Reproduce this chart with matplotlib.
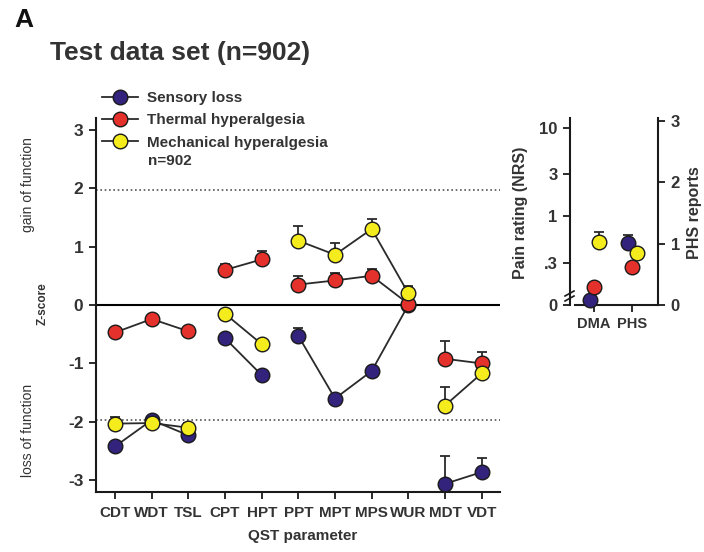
import numpy as np
import matplotlib
matplotlib.use('Agg')
import matplotlib.pyplot as plt
from matplotlib.lines import Line2D
from matplotlib.ticker import NullLocator

plt.rcParams['font.family'] = ['Liberation Sans', 'DejaVu Sans']

# ---------------- data ----------------
params = ['CDT', 'WDT', 'TSL', 'CPT', 'HPT', 'PPT', 'MPT', 'MPS', 'WUR', 'MDT', 'VDT']
groups = [[0, 1, 2], [3, 4], [5, 6, 7, 8], [9, 10]]
series_names = ['Sensory loss', 'Thermal hyperalgesia', 'Mechanical hyperalgesia']

sensory_loss = [-2.42, -1.97, -2.23, -0.57, -1.20, -0.53, -1.60, -1.13, 0.00, -3.06, -2.86]
sensory_loss_err = [0, 0.05, 0, 0, 0, 0.13, 0, 0, 0, 0.47, 0.25]
thermal = [-0.47, -0.24, -0.45, 0.60, 0.78, 0.35, 0.42, 0.50, 0.02, -0.92, -1.00]
thermal_err = [0, 0, 0, 0.10, 0.14, 0.14, 0.13, 0.12, 0, 0.30, 0.19]
mechanical = [-2.03, -2.02, -2.10, -0.15, -0.67, 1.10, 0.86, 1.30, 0.20, -1.72, -1.17]
mechanical_err = [0.12, 0, 0.08, 0, 0.06, 0.25, 0.20, 0.18, 0.13, 0.32, 0.10]
zscore_ticks = [-3, -2, -1, 0, 1, 2, 3]

inset_cats = ['DMA', 'PHS']
# order: sensory loss, thermal, mechanical
dma_pain = [0.115, 0.16, 0.51]
dma_pain_err = [0, 0, 0.15]
phs_reports = [1.01, 0.62, 0.85]
phs_reports_err = [0.13, 0, 0]
pain_ticks = [0.1, 0.3, 1, 3, 10]
pain_ticklabels = ['0', '.3', '1', '3', '10']
phs_ticks = [0, 1, 2, 3]

# ---------------- style ----------------
W, H = 704, 552
colors = ['#33237c', '#e4312b', '#f5ec1e']
offsets = [-0.1, 0.0, 0.12]
txt = '#333333'
lc = '#2a2a2a'
ms = 10.5

fig = plt.figure(figsize=(W / 100, H / 100), dpi=100)

# ---------------- main axes ----------------
ax = fig.add_axes([96 / W, 1 - 492 / H, (500 - 96) / W, (492 - 118) / H])
x = np.arange(len(params))
all_vals = [sensory_loss, thermal, mechanical]
all_errs = [sensory_loss_err, thermal_err, mechanical_err]

ax.axhline(0, color='black', lw=1.5, zorder=1)
for yv in (1.96, -1.96):
    ax.axhline(yv, color='#555555', ls=(0, (1, 1.6)), lw=1.2, zorder=1)

for i, (vals, errs, col) in enumerate(zip(all_vals, all_errs, colors)):
    vals = np.array(vals, dtype=float)
    errs = np.array(errs, dtype=float)
    for g in groups:
        ax.plot(x[g], vals[g], color=lc, lw=1.3, zorder=2)
    m = errs > 0
    ax.errorbar(x[m], vals[m], yerr=[np.zeros(m.sum()), errs[m]], fmt='none',
                ecolor=lc, elinewidth=1.3, capsize=3.5, capthick=1.3, zorder=2.5)
    ax.plot(x, vals, 'o', ms=ms, mfc=col, mec='#1a1a1a', mew=1.0, zorder=3 + i)

ax.set_xlim(-0.52, 10.5)
ax.set_ylim(-3.2, 3.2)
ax.set_xticks(x)
ax.set_xticklabels(params, fontsize=11, fontweight='bold', color=txt)
ax.set_yticks(zscore_ticks)
ax.set_yticklabels([str(t) for t in zscore_ticks], fontsize=12.5, fontweight='bold', color=txt)
for s in ('top', 'right'):
    ax.spines[s].set_visible(False)
for s in ('left', 'bottom'):
    ax.spines[s].set_linewidth(1.5)
    ax.spines[s].set_color('#1a1a1a')
ax.tick_params(axis='both', direction='out', length=5, width=1.3, color='#1a1a1a')
ax.tick_params(axis='x', pad=5)
ax.tick_params(axis='y', pad=4)

handles = [Line2D([], [], color=lc, lw=1.3, marker='o', ms=ms, mfc=c, mec='#1a1a1a', mew=1.0)
           for c in colors]
leg = ax.legend(handles, series_names, loc='upper left', bbox_to_anchor=(102 / W, 1 - 91 / H),
                bbox_transform=fig.transFigure, frameon=False, handlelength=2.35,
                handletextpad=0.6, labelspacing=0.55, borderpad=0, borderaxespad=0,
                prop={'size': 11, 'weight': 'bold'}, labelcolor=txt)

# ---------------- inset ----------------
axi = fig.add_axes([570 / W, 1 - 305 / H, 88 / W, 187 / H])
axi.set_yscale('log')
axi.set_ylim(0.1, 12.9)
axi.set_xlim(-0.63, 1.68)
axr = axi.twinx()
axr.set_ylim(0, 3.05)

for i, col in enumerate(colors):
    if dma_pain_err[i] > 0:
        axi.errorbar([0 + offsets[i]], [dma_pain[i]], yerr=[[0], [dma_pain_err[i]]], fmt='none',
                     ecolor=lc, elinewidth=1.3, capsize=3.5, capthick=1.3, zorder=2)
    axi.plot([0 + offsets[i]], [dma_pain[i]], 'o', ms=ms, mfc=col, mec='#1a1a1a', mew=1.0,
             zorder=3 + i, clip_on=False)
    if phs_reports_err[i] > 0:
        axr.errorbar([1 + offsets[i]], [phs_reports[i]], yerr=[[0], [phs_reports_err[i]]], fmt='none',
                     ecolor=lc, elinewidth=1.3, capsize=3.5, capthick=1.3, zorder=2)
    axr.plot([1 + offsets[i]], [phs_reports[i]], 'o', ms=ms, mfc=col, mec='#1a1a1a', mew=1.0,
             zorder=3 + i, clip_on=False)

axi.set_xticks([0, 1])
axi.set_xticklabels(inset_cats, fontsize=10.5, fontweight='bold', color=txt)
axi.set_yticks(pain_ticks)
axi.set_yticklabels(pain_ticklabels, fontsize=12, fontweight='bold', color=txt)
axi.yaxis.set_minor_locator(NullLocator())
axr.set_yticks(phs_ticks)
axr.set_yticklabels([str(t) for t in phs_ticks], fontsize=12, fontweight='bold', color=txt)

for s in ('top', 'right'):
    axi.spines[s].set_visible(False)
for s in ('top', 'left', 'bottom'):
    axr.spines[s].set_visible(False)
for a, names in ((axi, ('left', 'bottom')), (axr, ('right',))):
    for s in names:
        a.spines[s].set_linewidth(1.5)
        a.spines[s].set_color('#1a1a1a')
axi.spines['bottom'].set_bounds(-0.5, 1.68)
axi.tick_params(axis='both', which='both', direction='out', length=5, width=1.3, color='#1a1a1a')
axi.tick_params(axis='y', pad=4)
axr.tick_params(axis='y', direction='out', length=5, width=1.3, color='#1a1a1a', pad=4)

# axis break marks on inset left spine
for yy in (293, 298):
    fig.add_artist(Line2D([565 / W, 574 / W], [1 - (yy + 3) / H, 1 - (yy - 2) / H],
                          color='#1a1a1a', lw=1.2, transform=fig.transFigure))

# ---------------- texts ----------------
fig.text(14 / W, 1 - 20 / H, 'A', fontsize=19, fontweight='bold', va='center', ha='left', color='#111111')
fig.text(50 / W, 1 - 53 / H, 'Test data set (n=902)', fontsize=19, fontweight='bold',
         va='center', ha='left', color=txt)
fig.text(148 / W, 1 - 161 / H, 'n=902', fontsize=11, fontweight='bold', va='center', ha='left', color=txt)
fig.text(28 / W, 1 - 185 / H, 'gain of function', rotation=90, fontsize=10, color=txt,
         ha='center', va='center')
fig.text(28 / W, 1 - 430 / H, 'loss of function', rotation=90, fontsize=10, color=txt,
         ha='center', va='center')
fig.text(43 / W, 1 - 304 / H, 'Z-score', rotation=90, fontsize=8.5, fontweight='bold', color=txt,
         ha='center', va='center')
fig.text(303 / W, 1 - 536 / H, 'QST parameter', fontsize=11, fontweight='bold', color=txt,
         ha='center', va='center')
fig.text(520 / W, 1 - 213 / H, 'Pain rating (NRS)', rotation=90, fontsize=11.5, fontweight='bold',
         color=txt, ha='center', va='center')
fig.text(694 / W, 1 - 213 / H, 'PHS reports', rotation=90, fontsize=11.5, fontweight='bold',
         color=txt, ha='center', va='center')

fig.savefig('out.png', dpi=100)
